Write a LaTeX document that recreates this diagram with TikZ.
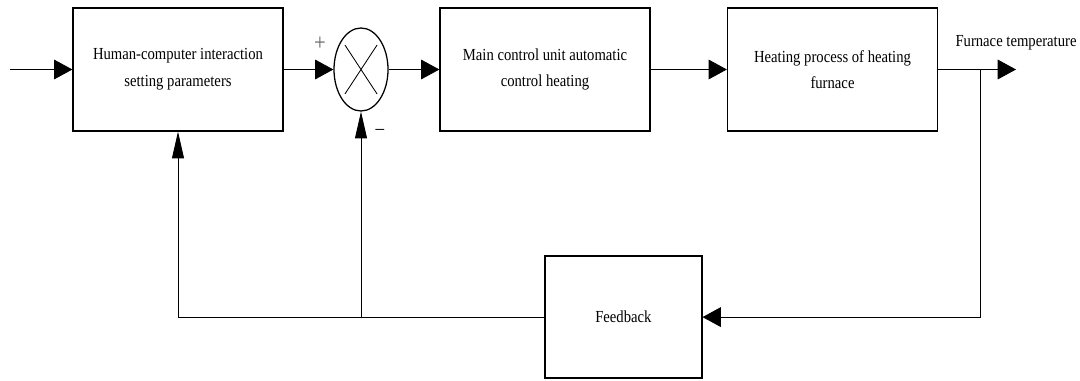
\documentclass[tikz,border=0pt]{standalone}
\usepackage{fontspec}
\setmainfont[FakeStretch=0.87]{Liberation Serif}
\usetikzlibrary{arrows.meta, positioning, shapes.geometric, calc}
\begin{document}
\begin{tikzpicture}[line width=0.6pt, harrow/.style={-{Triangle[length=13pt,width=14pt]}}, varrow/.style={-{Triangle[length=19pt,width=8.5pt]}}, every node/.style={font=\fontsize{12}{19}\selectfont}]
% Define styles for blocks, sum node, input and output
\tikzstyle{block} = [draw, line width=0.9pt, rectangle, minimum width=5.25cm, minimum height=3.075cm, align=center, inner sep=2pt]
\tikzstyle{sum} = [draw, line width=0.9pt, ellipse, minimum width=1.35cm, minimum height=2.075cm, inner sep=0pt]
\tikzstyle{input} = [coordinate]
\tikzstyle{output} = [coordinate]

\useasboundingbox (0,0) rectangle (27,-9.5);

% Nodes placement
\node [input, name=input] at (0.25,-1.7375) {};
\node [block, right of=input, node distance=4.2cm] (humanset) {Human-computer interaction\\setting parameters};
\node [sum, right of=humanset, node distance=4.575cm] (sum) {};
\node [block, right of=sum, node distance=4.6cm] (mainctrl) {Main control unit automatic\\control heating};
\node [block, right of=mainctrl, node distance=7.1875cm] (furnace) {Heating process of heating\\furnace};
\node [output, right of=furnace, node distance=4.5875cm] (output) {};
\node [above of=output, node distance=0.66cm] (outlabel) {Furnace temperature};
\node [block, minimum width=3.925cm, minimum height=3.05cm, below of=mainctrl, node distance=6.19cm, xshift=1.96cm] (feedback) {Feedback};
\coordinate [right of=furnace, node distance=3.6875cm] (branch);
\coordinate (fbjoint) at (sum.south |- feedback.west);

% Cross inside the sum node
\draw ($(sum.center)!0.82!(sum.north east)$) -- ($(sum.center)!0.82!(sum.south west)$);
\draw ($(sum.center)!0.82!(sum.north west)$) -- ($(sum.center)!0.82!(sum.south east)$);

% Draw edges
\draw[harrow] (input) -- (humanset);
\draw[harrow] (humanset) -- (sum);
\draw[harrow] (sum) -- (mainctrl);
\draw[harrow] (mainctrl) -- (furnace);
\draw[harrow] (furnace) -- (output);

% Feedback loop
\draw[harrow] (branch) |- (feedback.east);
\draw[varrow] (feedback.west) -| (humanset.south);
\draw[varrow] (fbjoint) -- (sum.south);

% Labeling the sum node
\draw (sum.center) ++(-1.025,0.64) node[font=\fontsize{17}{17}\selectfont, text=black!60] {+};
\draw (sum.center) ++(0.475,-1.56) node[font=\fontsize{14}{14}\selectfont] {--};

\end{tikzpicture}
\end{document}
